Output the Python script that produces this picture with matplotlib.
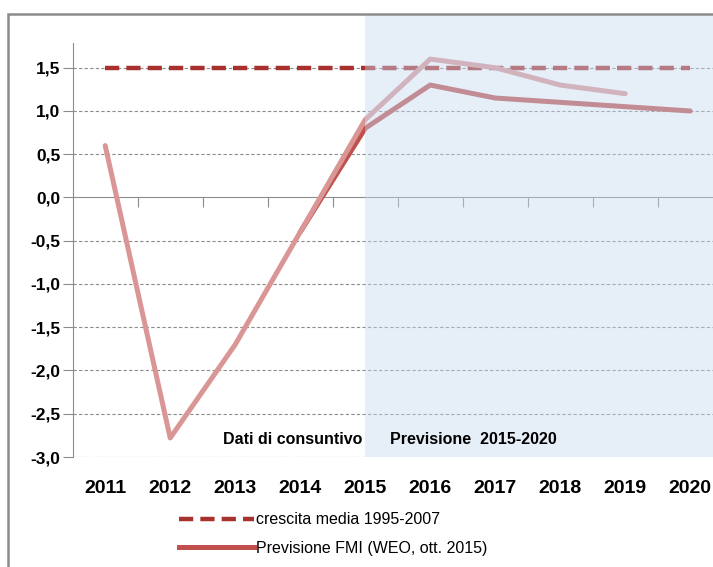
import matplotlib
matplotlib.use("Agg")
import matplotlib.pyplot as plt
from matplotlib.patches import Rectangle
from matplotlib.lines import Line2D
import matplotlib.transforms as mtransforms

plt.rcParams['font.family'] = ['Liberation Sans', 'DejaVu Sans']

years = ['2011', '2012', '2013', '2014', '2015', '2016', '2017', '2018', '2019', '2020']
media_9507 = [1.5] * 10
# serie storica + altra previsione (2011-2019)
storico = [0.6, -2.78, -1.7, -0.4, 0.9, 1.6, 1.5, 1.3, 1.2]
# Previsione FMI (2014-2020)
fmi = [-0.4, 0.8, 1.3, 1.15, 1.1, 1.05, 1.0]
yticks = [-3.0, -2.5, -2.0, -1.5, -1.0, -0.5, 0.0, 0.5, 1.0, 1.5]

fig = plt.figure(figsize=(7.13, 5.67), dpi=100)
ax = fig.add_axes([72.7 / 713, 110 / 567, 650 / 713, 414 / 567])

x = list(range(len(years)))
ax.set_xlim(-0.5, 9.5)
ax.set_ylim(-3.0, 1.786)

# griglia tratteggiata
for v in yticks:
    if v != 0.0:
        ax.axhline(v, color='#8c8c8c', lw=0.8, ls=(0, (3, 2)), zorder=1)

l_media, = ax.plot(x, media_9507, color='#a8302d', lw=3.2, ls=(0, (3.2, 1.6)), zorder=3)
l_fmi, = ax.plot(x[3:], fmi, color='#c0504d', lw=3.6, solid_capstyle='round',
                 solid_joinstyle='round', zorder=3)
ax.plot(x[:9], storico, color='#d99694', lw=3.6, solid_capstyle='round',
        solid_joinstyle='round', zorder=4)

# area previsione (sovrapposta, semitrasparente)
trans = mtransforms.blended_transform_factory(ax.transData, ax.transAxes)
ax.add_patch(Rectangle((4, 0), 6, 1.068, transform=trans, facecolor='#c6d9f1',
                       alpha=0.44, edgecolor='none', clip_on=False, zorder=5))

# assi
for s in ['top', 'right']:
    ax.spines[s].set_visible(False)
ax.spines['bottom'].set_position(('data', 0))
ax.spines['bottom'].set_color('#8c8c8c')
ax.spines['left'].set_color('#8c8c8c')
ax.set_xticks([i + 0.5 for i in range(9)])
ax.set_xticklabels([])
ax.tick_params(axis='x', length=7, color='#8c8c8c', direction='out')
ax.set_yticks(yticks)
ax.set_yticklabels([('%.1f' % v).replace('.', ',') for v in yticks],
                   fontsize=12.5, fontweight='bold')
ax.tick_params(axis='y', length=7, color='#8c8c8c', pad=2)

for i, yr in enumerate(years):
    ax.text(i, -0.075, yr, transform=trans, ha='center', va='center',
            fontsize=14, fontweight='bold')

ax.text(3.95, -2.8, 'Dati di consuntivo', ha='right', va='center',
        fontsize=11.5, fontweight='bold', zorder=6)
ax.text(4.38, -2.8, 'Previsione  2015-2020', ha='left', va='center',
        fontsize=11.5, fontweight='bold', zorder=6)

fig.legend([Line2D([], [], color='#a8302d', lw=3.2, ls=(0, (3.2, 1.6))),
            Line2D([], [], color='#c0504d', lw=3.6)],
           ['crescita media 1995-2007', 'Previsione FMI (WEO, ott. 2015)'],
           loc='upper left', bbox_to_anchor=(165 / 713, 1 - 498 / 567),
           frameon=False, fontsize=11.5, handlelength=4.7, handletextpad=0.12,
           labelspacing=0.85)

# cornice esterna
fig.patches.append(Rectangle((8 / 713, -0.1), 1.2, 1.1 - 14 / 567,
                             transform=fig.transFigure, facecolor='none',
                             edgecolor='#8c8c8c', lw=1.8))

fig.savefig('out.png', dpi=100)
